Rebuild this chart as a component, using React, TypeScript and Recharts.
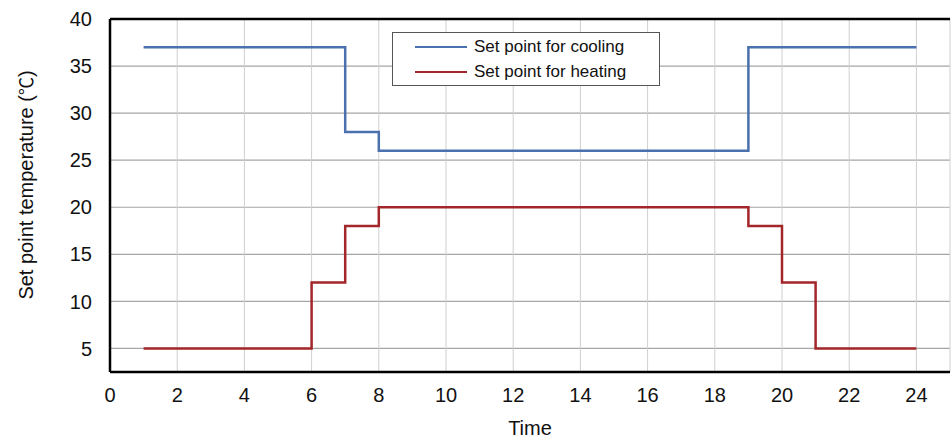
import React from "react"
import {
  LineChart,
  Line,
  XAxis,
  YAxis,
  CartesianGrid,
  ReferenceLine,
} from "recharts"

const hours = [1, 2, 3, 4, 5, 6, 7, 8, 9, 10, 11, 12, 13, 14, 15, 16, 17, 18, 19, 20, 21, 22, 23, 24]
const coolingSetPoint = [37, 37, 37, 37, 37, 37, 28, 26, 26, 26, 26, 26, 26, 26, 26, 26, 26, 26, 37, 37, 37, 37, 37, 37]
const heatingSetPoint = [5, 5, 5, 5, 5, 12, 18, 20, 20, 20, 20, 20, 20, 20, 20, 20, 20, 20, 18, 12, 5, 5, 5, 5]
const xTicks = [0, 2, 4, 6, 8, 10, 12, 14, 16, 18, 20, 22, 24]
const yTicks = [5, 10, 15, 20, 25, 30, 35, 40]

const COOL = "#4a70ad"
const HEAT = "#a3262a"
const FONT = "'Liberation Sans', Arial, sans-serif"

const data = hours.map((h, i) => ({
  hour: h,
  cooling: coolingSetPoint[i],
  heating: heatingSetPoint[i],
}))

const legendItems = [
  { name: "Set point for cooling", color: COOL },
  { name: "Set point for heating", color: HEAT },
]

// legend drawn as a plain box over the plot, like the original
function BoxLegend() {
  return (
    <div
      style={{
        position: "absolute",
        left: 392,
        top: 32,
        width: 266,
        height: 50,
        border: "1.5px solid #555",
        background: "#fff",
        padding: "1px 0",
        fontFamily: FONT,
        fontSize: 17,
        color: "#111",
      }}
    >
      {legendItems.map((it) => (
        <div key={it.name} style={{ display: "flex", alignItems: "center", height: 25 }}>
          <span
            style={{
              display: "inline-block",
              width: 52,
              height: 0,
              borderTop: `2.5px solid ${it.color}`,
              marginLeft: 22,
              marginRight: 7,
            }}
          />
          <span>{it.name}</span>
        </div>
      ))}
    </div>
  )
}

function YLabel() {
  return (
    <text
      x={0}
      y={0}
      transform="translate(33, 185) rotate(-90)"
      textAnchor="middle"
      fontFamily={FONT}
      fontSize={20}
      fill="#111"
    >
      Set point temperature (
      <tspan fontFamily="'Noto Sans CJK SC', sans-serif" fontSize={18}>℃</tspan>)
    </text>
  )
}

export default function App() {
  return (
    <div style={{ position: "absolute", left: 0, top: 0, width: 952, height: 439, background: "#fff" }}>
      <LineChart
        width={952}
        height={439}
        data={data}
        margin={{ top: 19, right: 2, bottom: 0, left: 0 }}
      >
        <CartesianGrid horizontal={true} vertical={false} stroke="#a6a6a6" strokeWidth={1.2} />
        <CartesianGrid horizontal={false} vertical={true} stroke="#cfcfcf" strokeWidth={1} />
        <XAxis
          dataKey="hour"
          type="number"
          domain={[0, 25]}
          ticks={xTicks}
          interval={0}
          height={67}
          axisLine={{ stroke: "#000", strokeWidth: 2.5 }}
          tickLine={false}
          tickMargin={10}
          tick={{ fontSize: 20, fill: "#111", fontFamily: FONT }}
          label={{
            value: "Time",
            position: "insideBottom",
            offset: 4,
            fontSize: 20,
            fill: "#111",
            fontFamily: FONT,
          }}
        />
        <YAxis
          type="number"
          domain={[2.5, 40]}
          ticks={yTicks}
          interval={0}
          width={110}
          axisLine={{ stroke: "#000", strokeWidth: 2.5 }}
          tickLine={false}
          tickMargin={12}
          tick={{ fontSize: 20, fill: "#111", fontFamily: FONT }}
          label={<YLabel />}
        />
        <ReferenceLine y={40} stroke="#000" strokeWidth={2.5} />
        <Line
          type="stepAfter"
          dataKey="cooling"
          name="Set point for cooling"
          stroke={COOL}
          strokeWidth={2.5}
          dot={false}
          isAnimationActive={false}
        />
        <Line
          type="stepAfter"
          dataKey="heating"
          name="Set point for heating"
          stroke={HEAT}
          strokeWidth={2.5}
          dot={false}
          isAnimationActive={false}
        />
      </LineChart>
      <BoxLegend />
    </div>
  )
}
